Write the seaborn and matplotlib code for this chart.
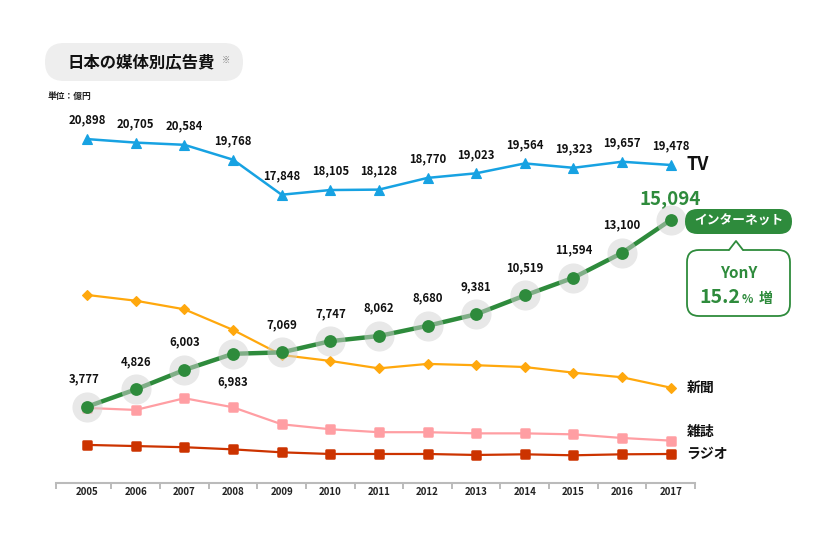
import numpy as np
import matplotlib
matplotlib.use('Agg')
import matplotlib.pyplot as plt
import matplotlib.patches as mpatches
import matplotlib.transforms as mtransforms
from matplotlib.markers import MarkerStyle
import seaborn as sns

# 日本の媒体別広告費 (単位: 億円)
years = ['2005', '2006', '2007', '2008', '2009', '2010', '2011',
         '2012', '2013', '2014', '2015', '2016', '2017']
tv = [20898, 20705, 20584, 19768, 17848, 18105, 18128, 18770, 19023, 19564, 19323, 19657, 19478]
internet = [3777, 4826, 6003, 6983, 7069, 7747, 8062, 8680, 9381, 10519, 11594, 13100, 15094]
# 新聞・雑誌・ラジオはラベルが無いので図から読み取った概算値
newspaper = [10550, 10200, 9680, 8430, 6910, 6550, 6100, 6370, 6290, 6180, 5840, 5560, 4930]
magazine = [3700, 3580, 4290, 3740, 2710, 2410, 2230, 2230, 2160, 2160, 2100, 1880, 1720]
radio = [1460, 1390, 1320, 1190, 1010, 910, 910, 910, 850, 890, 830, 890, 910]
inet_label_below = ['2008']
yony_text = 'YonY'
yony_value = '15.2'

C_TV = '#17a2e2'
C_NET = '#2e8b3c'
C_NEWS = '#ffa80d'
C_MAG = '#ff9ea3'
C_RADIO = '#cc3300'

sns.set_style('white')
plt.rcParams['font.family'] = ['Noto Sans CJK JP', 'DejaVu Sans']

W, H = 824, 540
fig = plt.figure(figsize=(W / 100, H / 100), dpi=100)
# pixel coords, origin top-left
px = mtransforms.Affine2D().scale(1, -1).translate(0, H).scale(1 / 100) + fig.dpi_scale_trans

ax = fig.add_axes([56 / W, (H - 483) / H, (695 - 56) / W, (483 - 60) / H])
ax.set_ylim(-849, 24792)
ax.set_xlim(-0.64, 12.5)
# TVは別スケール (元図も圧縮されている)
ax2 = ax.twinx()
ax2.set_ylim(2043, 25234)
ax2.set_xlim(-0.64, 12.5)
ax2.axis('off')

x = np.arange(len(years))

sq = MarkerStyle('s', joinstyle='round')
sns.lineplot(x=x, y=radio, ax=ax, color=C_RADIO, linewidth=1.6, marker=sq,
             markersize=6.3, markeredgewidth=1.8, markeredgecolor=C_RADIO, zorder=2)
sns.lineplot(x=x, y=magazine, ax=ax, color=C_MAG, linewidth=1.6, marker=sq,
             markersize=6.3, markeredgewidth=1.8, markeredgecolor=C_MAG, zorder=2)
sns.lineplot(x=x, y=newspaper, ax=ax, color=C_NEWS, linewidth=1.6, marker='D',
             markersize=5, markeredgewidth=0.8, markeredgecolor=C_NEWS, zorder=2)
sns.lineplot(x=x, y=internet, ax=ax, color=C_NET, linewidth=3.2, zorder=3)
ax.scatter(x, internet, s=470, color='#d2d2d2', alpha=0.5, linewidths=0, zorder=4)
ax.scatter(x, internet, s=85, color=C_NET, linewidths=0, zorder=5)
sns.lineplot(x=x, y=tv, ax=ax2, color=C_TV, linewidth=1.8, marker='^',
             markersize=7.5, markeredgewidth=0.8, markeredgecolor=C_TV, zorder=2)

# 値ラベル
for i, v in enumerate(tv):
    ax2.annotate(f'{v:,}', (i, v), xytext=(0, 13.5), textcoords='offset points',
                 ha='center', va='center', fontsize=8.2, fontweight='bold', color='#111111')
for i, v in enumerate(internet):
    if i == len(internet) - 1:
        ax.annotate(f'{v:,}', (i, v), xytext=(0, 15), textcoords='offset points',
                    ha='center', va='center', fontsize=13.5, fontweight='bold', color=C_NET)
        continue
    dy = -20 if years[i] in inet_label_below else 20
    ax.annotate(f'{v:,}', (i, v), xytext=(-2 if i == 0 else 0, dy), textcoords='offset points',
                ha='center', va='center', fontsize=8.2, fontweight='bold', color='#111111', zorder=6)

# 系列名
last = len(years) - 1
ax2.annotate('TV', (last, tv[-1]), xytext=(11.5, 0), textcoords='offset points',
             ha='left', va='center', fontsize=13, fontweight='bold', color='#111111')
ax.annotate('新聞', (last, newspaper[-1]), xytext=(11.5, 0), textcoords='offset points',
            ha='left', va='center', fontsize=10, fontweight='bold', color='#111111')
ax.annotate('雑誌', (last, magazine[-1]), xytext=(11.5, 6.5), textcoords='offset points',
            ha='left', va='center', fontsize=10, fontweight='bold', color='#111111')
ax.annotate('ラジオ', (last, radio[-1]), xytext=(11.5, 0), textcoords='offset points',
            ha='left', va='center', fontsize=10, fontweight='bold', color='#111111')

# x軸
ax.set_xticks(x)
ax.set_xticklabels(years, fontsize=7, fontweight='bold', color='#222222')
ax.set_xticks([-0.64] + [i + 0.5 for i in range(len(years))], minor=True)
ax.tick_params(axis='x', which='both', bottom=True)
ax.tick_params(axis='x', which='major', length=0, pad=3)
ax.tick_params(axis='x', which='minor', length=4, width=1.4, color='#bbbbbb', direction='out')
ax.set_yticks([])
ax.grid(False)
sns.despine(ax=ax, left=True, right=True, top=True)
ax.spines['bottom'].set_color('#bbbbbb')
ax.spines['bottom'].set_linewidth(1.5)
ax.set_xlabel('')
ax.set_ylabel('')

# タイトル
fig.add_artist(mpatches.FancyBboxPatch((45, 43), 198, 38, boxstyle='round,pad=0,rounding_size=19',
                                       facecolor='#eeeeee', edgecolor='none', transform=px))
fig.text(67, 62, '日本の媒体別広告費', transform=px, ha='left', va='center',
         fontsize=11.8, fontweight='bold', color='#111111')
fig.text(222, 60, '※', transform=px, ha='left', va='center', fontsize=6, color='#777777')
fig.text(48, 96, '単位：億円', transform=px, ha='left', va='center',
         fontsize=6.3, fontweight='bold', color='#222222')

# インターネット ラベル
fig.add_artist(mpatches.FancyBboxPatch((685, 209), 107, 25, boxstyle='round,pad=0,rounding_size=12.5',
                                       facecolor=C_NET, edgecolor='none', transform=px))
fig.text(738.5, 221.5, 'インターネット', transform=px, ha='center', va='center',
         fontsize=9.2, fontweight='bold', color='white')

# 吹き出し
fig.add_artist(mpatches.FancyBboxPatch((687, 250), 103, 66, boxstyle='round,pad=0,rounding_size=12',
                                       facecolor='white', edgecolor=C_NET, linewidth=1.3, transform=px))
fig.add_artist(mpatches.Polygon([(729, 251), (743, 251), (736, 241)], closed=True,
                                facecolor='white', edgecolor='none', transform=px))
fig.add_artist(plt.Line2D([729, 736, 743], [250, 241, 250], color=C_NET, linewidth=1.3,
                          solid_joinstyle='round', transform=px))
fig.text(738.5, 273, yony_text, transform=px, ha='center', va='center',
         fontsize=11, fontweight='bold', color=C_NET)
fig.text(740, 303, yony_value, transform=px, ha='right', va='baseline',
         fontsize=14, fontweight='bold', color=C_NET)
fig.text(742, 303, '%', transform=px, ha='left', va='baseline',
         fontsize=8.5, fontweight='bold', color=C_NET)
fig.text(759, 303, '増', transform=px, ha='left', va='baseline',
         fontsize=10, fontweight='bold', color=C_NET)

fig.savefig('out.png', dpi=100, facecolor='white')
